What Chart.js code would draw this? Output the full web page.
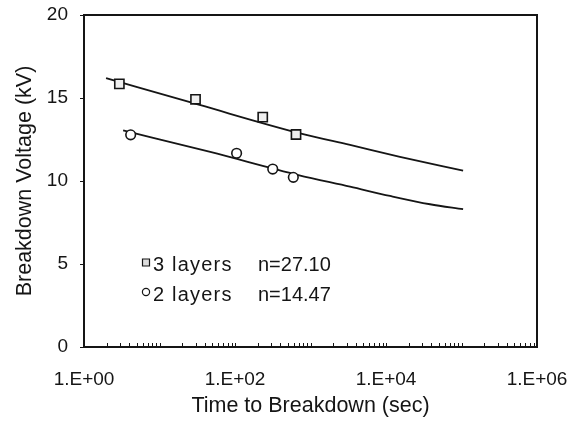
<!DOCTYPE html>
<html>
<head>
<meta charset="utf-8">
<script src="https://cdn.jsdelivr.net/npm/chart.js@4/dist/chart.umd.min.js"></script>
<style>
  html, body { margin: 0; padding: 0; background: #fff; }
  #wrap { width: 580px; height: 421px; }
</style>
</head>
<body>
<div id="wrap"><canvas id="myChart"></canvas></div>
<script>
// measured breakdown points (time in sec, voltage in kV)
const timeThree = [2.94, 30, 233, 643];
const voltThree = [15.85, 14.92, 13.85, 12.8];
const timeTwo = [4.15, 105, 316, 592];
const voltTwo = [12.78, 11.67, 10.72, 10.22];

// fitted life lines
const fitTimeThree = [1.96, 34, 730, 3340, 15300, 105000];
const fitVoltThree = [16.2, 14.58, 12.87, 12.17, 11.46, 10.62];
const fitTimeTwo = [3.3, 47, 690, 3340, 11300, 38300, 105000];
const fitVoltTwo = [13.05, 11.75, 10.36, 9.66, 9.1, 8.6, 8.3];

// axis labels
const labelTimes = [1, 1e2, 1e4, 1e6];
const labelTexts = ['1.E+00', '1.E+02', '1.E+04', '1.E+06'];
const voltTicks = [0, 5, 10, 15, 20];

// legend text
const legendNames = ['3 layers', '2 layers'];
const legendSlopes = ['n=27.10', 'n=14.47'];

const FONT = '"Liberation Sans", Arial, sans-serif';
const INK = '#151515';

function toPoints(xs, ys) {
    return xs.map((x, i) => ({ x: x, y: ys[i] }));
}

// box round the plot, small inward ticks on the time axis, legend
const framePlugin = {
    id: 'frame',
    afterDraw(chart) {
        const ctx = chart.ctx;
        const a = chart.chartArea;
        const x = chart.scales.x;
        ctx.save();
        ctx.strokeStyle = INK;
        ctx.lineWidth = 2;
        ctx.strokeRect(a.left, a.top, a.right - a.left, a.bottom - a.top);

        ctx.lineWidth = 1;
        x.ticks.forEach(t => {
            const px = Math.round(x.getPixelForValue(t.value)) + 0.5;
            ctx.beginPath();
            ctx.moveTo(px, a.bottom);
            ctx.lineTo(px, a.bottom - 4);
            ctx.stroke();
        });

        // legend, inside the plot
        const lx = a.left + 62;
        const rows = [a.top + 248, a.top + 278];
        ctx.font = '20px ' + FONT;
        ctx.textBaseline = 'middle';
        rows.forEach((ry, i) => {
            ctx.lineWidth = 1.2;
            ctx.beginPath();
            if (i === 0) {
                ctx.rect(lx - 3.5, ry - 4, 7, 7);
                ctx.fillStyle = '#ddd';
            } else {
                ctx.arc(lx, ry - 1, 3.6, 0, Math.PI * 2);
                ctx.fillStyle = '#fff';
            }
            ctx.fill();
            ctx.stroke();
            ctx.fillStyle = INK;
            ctx.letterSpacing = '1.2px';
            ctx.fillText(legendNames[i], lx + 7, ry + 2);
            ctx.letterSpacing = '0px';
            ctx.fillText(legendSlopes[i], lx + 112, ry + 2);
        });
        ctx.restore();
    }
};

const ctx = document.getElementById('myChart').getContext('2d');
const chart = new Chart(ctx, {
    type: 'scatter',
    data: {
        datasets: [
            {
                label: '3 layers',
                data: toPoints(timeThree, voltThree),
                pointStyle: 'rect',
                pointRadius: 6.5,
                borderWidth: 1.6,
                borderColor: INK,
                backgroundColor: '#f0f0f0'
            },
            {
                label: '2 layers',
                data: toPoints(timeTwo, voltTwo),
                pointStyle: 'circle',
                pointRadius: 4.8,
                borderWidth: 1.6,
                borderColor: INK,
                backgroundColor: '#fff'
            },
            {
                label: 'fit 3 layers',
                type: 'line',
                data: toPoints(fitTimeThree, fitVoltThree),
                showLine: true,
                pointRadius: 0,
                borderWidth: 1.8,
                borderColor: INK,
                cubicInterpolationMode: 'monotone'
            },
            {
                label: 'fit 2 layers',
                type: 'line',
                data: toPoints(fitTimeTwo, fitVoltTwo),
                showLine: true,
                pointRadius: 0,
                borderWidth: 1.8,
                borderColor: INK,
                cubicInterpolationMode: 'monotone'
            }
        ]
    },
    options: {
        responsive: true,
        maintainAspectRatio: false,
        animation: false,
        layout: { padding: { left: 0, top: 15, right: 43, bottom: 0 } },
        plugins: {
            legend: { display: false },
            tooltip: { enabled: false }
        },
        scales: {
            x: {
                type: 'logarithmic',
                min: 1,
                max: 1e6,
                afterBuildTicks: (scale) => {
                    const ticks = [];
                    for (let d = 0; d < 6; d++) {
                        for (let m = 1; m < 10; m++) ticks.push({ value: m * Math.pow(10, d) });
                    }
                    ticks.push({ value: 1e6 });
                    scale.ticks = ticks;
                },
                afterFit: (scale) => {
                    scale.height = 74;
                    scale.paddingLeft = 0;
                    scale.paddingRight = 0;
                },
                grid: { display: true, drawOnChartArea: false, drawTicks: false },
                border: { display: false },
                ticks: {
                    autoSkip: false,
                    maxRotation: 0,
                    padding: 21,
                    color: INK,
                    font: { family: FONT, size: 19 },
                    callback: (value) => {
                        const i = labelTimes.indexOf(value);
                        return i >= 0 ? labelTexts[i] : '';
                    }
                },
                title: {
                    display: true,
                    text: 'Time to Breakdown (sec)',
                    color: INK,
                    font: { family: FONT, size: 21.5 },
                    padding: { top: 0, bottom: 2 }
                }
            },
            y: {
                min: 0,
                max: 20,
                afterBuildTicks: (scale) => {
                    scale.ticks = voltTicks.map(v => ({ value: v }));
                },
                afterFit: (scale) => {
                    scale.width = 84;
                    scale.paddingTop = 0;
                    scale.paddingBottom = 0;
                },
                grid: { drawOnChartArea: false, drawTicks: true, tickLength: 4, color: INK },
                border: { display: false },
                ticks: {
                    padding: 12,
                    color: INK,
                    font: { family: FONT, size: 19 }
                },
                title: {
                    display: true,
                    text: 'Breakdown Voltage (kV)',
                    color: INK,
                    font: { family: FONT, size: 21.5 },
                    padding: { top: 12, bottom: 0 }
                }
            }
        }
    },
    plugins: [framePlugin]
});
</script>
</body>
</html>
